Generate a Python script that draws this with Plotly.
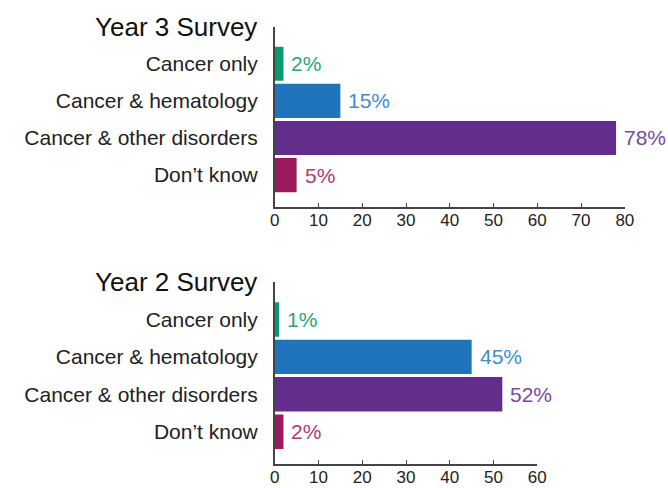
import plotly.graph_objects as go

categories = ["Cancer only", "Cancer & hematology", "Cancer & other disorders", "Don\u2019t know"]
year3_values = [2, 15, 78, 5]
year2_values = [1, 45, 52, 2]
bar_colors = ["#0b9b6b", "#1f74bc", "#632d8c", "#9c1b5d"]
label_colors = ["#2aa57a", "#3c8ed3", "#7a48a8", "#b23877"]
year3_ticks = [0, 10, 20, 30, 40, 50, 60, 70, 80]
year2_ticks = [0, 10, 20, 30, 40, 50, 60]

W, H = 668, 488
FONT = "Liberation Sans"

fig = go.Figure()
fig.add_trace(go.Bar(y=categories, x=year3_values, orientation="h",
                     marker=dict(color=bar_colors, line=dict(width=0)),
                     width=0.92, xaxis="x", yaxis="y", hoverinfo="skip"))
fig.add_trace(go.Bar(y=categories, x=year2_values, orientation="h",
                     marker=dict(color=bar_colors, line=dict(width=0)),
                     width=0.92, xaxis="x2", yaxis="y2", hoverinfo="skip"))

ann = []
for vals, xr, yr in [(year3_values, "x", "y"), (year2_values, "x2", "y2")]:
    for c, v, col in zip(categories, vals, label_colors):
        ann.append(dict(x=v, y=c, xref=xr, yref=yr, text=f"{v}%", showarrow=False,
                        xanchor="left", yanchor="middle", xshift=6,
                        font=dict(family=FONT, size=21, color=col)))

ann.append(dict(x=259 / W, y=1 - 27 / H, xref="paper", yref="paper", text="Year 3 Survey",
                showarrow=False, xanchor="right", yanchor="middle",
                font=dict(family=FONT, size=26, color="#111")))
ann.append(dict(x=259 / W, y=1 - 282 / H, xref="paper", yref="paper", text="Year 2 Survey",
                showarrow=False, xanchor="right", yanchor="middle",
                font=dict(family=FONT, size=26, color="#111")))

x0 = 275.5
ppu = 4.47
axis_common = dict(showgrid=False, zeroline=False, showline=True, linecolor="#444", linewidth=1.5,
                   ticks="inside", ticklen=4, tickwidth=1.2, tickcolor="#444",
                   ticklabelstandoff=-3,
                   tickfont=dict(family=FONT, size=17, color="#222"))
ycommon = dict(showgrid=False, zeroline=False, showline=True, linecolor="#444", linewidth=1.5,
               ticks="", tickfont=dict(family=FONT, size=21, color="#222"),
               ticklabelstandoff=11, categoryorder="array", categoryarray=categories)

fig.update_layout(
    width=W, height=H, margin=dict(l=0, r=0, t=0, b=0),
    paper_bgcolor="white", plot_bgcolor="white", showlegend=False,
    xaxis=dict(domain=[x0 / W, (x0 + 80 * ppu) / W], range=[0, 80], tickvals=year3_ticks,
               anchor="y", **axis_common),
    yaxis=dict(domain=[1 - 207 / H, 1 - 27 / H], range=[3.86, -0.99], anchor="x", **ycommon),
    xaxis2=dict(domain=[x0 / W, (x0 + 60 * ppu) / W], range=[0, 60], tickvals=year2_ticks,
                anchor="y2", **axis_common),
    yaxis2=dict(domain=[1 - 464 / H, 1 - 282 / H], range=[3.86, -1.0], anchor="x2", **ycommon),
    annotations=ann,
)

fig.write_html("out.html")
